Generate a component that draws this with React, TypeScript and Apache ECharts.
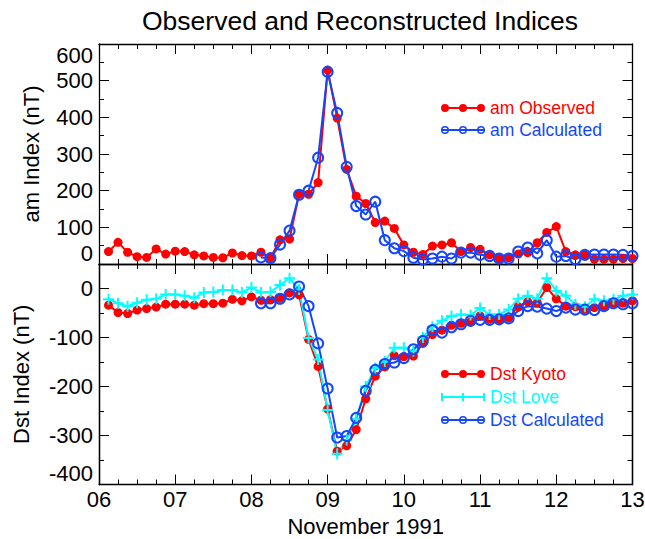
import React, { useEffect, useRef } from "react";
import * as echarts from "echarts";

// Sampling: 3-hourly values, November 1991 (day-of-month on the x axis)
const obsStart = 6.125;
const calcStart = 8.125;
const step = 0.125;

const amObserved = [34, 59, 32, 20, 18, 41, 27, 35, 34, 25, 22, 18, 17, 30, 23, 22, 32, 17, 66, 68,
  190, 190, 222, 529, 398, 258, 185, 165, 113, 117, 97, 52, 32, 26, 49, 52, 58, 34, 45, 40,
  25, 15, 17, 27, 31, 58, 86, 102, 34, 25, 25, 13, 13, 13, 15, 15];
const amCalculated = [18, 16, 53, 91, 189, 200, 290, 524, 412, 265, 158, 135, 170, 65, 43, 35, 17, 12, 15, 20,
  15, 31, 31, 25, 22, 15, 15, 34, 45, 29, 65, 20, 22, 13, 25, 26, 26, 26, 25, 22];
const dstKyoto = [-34, -49, -51, -44, -41, -38, -32, -32, -32, -34, -31, -31, -30, -22, -25, -17, -24, -23, -20, -9,
  -13, -104, -159, -246, -332, -321, -288, -225, -179, -160, -137, -139, -138, -112, -94, -85, -75, -71, -68, -56,
  -63, -63, -60, -37, -27, -29, 2, -21, -36, -37, -43, -39, -36, -30, -30, -25];
const dstLove = [-22, -30, -36, -29, -23, -21, -12, -12, -15, -19, -8, -7, -3, -3, -8, 2, -8, -7, 7, 21,
  -2, -101, -145, -248, -337, -309, -267, -200, -162, -149, -121, -121, -128, -100, -78, -66, -56, -53, -54, -40,
  -53, -53, -43, -21, -15, -21, 21, -5, -15, -32, -37, -22, -25, -22, -15, -12];
const dstCalculated = [-30, -30, -21, -12, 4, -36, -112, -204, -304, -301, -264, -209, -166, -154, -151, -142, -124, -107, -85, -90,
  -79, -73, -66, -64, -64, -63, -61, -46, -36, -37, -41, -46, -39, -43, -43, -44, -36, -30, -32, -30];

const xTicks = { min: 6, max: 13, interval: 1 };
const amTicks = { min: 0, max: 600, interval: 100 };
const dstTicks = { min: -400, max: 50, interval: 100 };

const RED = "#ff0000";
const CYAN = "#00ffff";
const BLUE = "#1446ff";
const FONT = '"Liberation Sans", Arial, Helvetica, sans-serif';

const pts = (vals: number[], start: number) => vals.map((v, i) => [start + i * step, v]);

// legend icons (44 x 8 boxes); clockwise = sweep 1, counter-clockwise = sweep 0
const circ = (cx: number, cy: number, r: number, cw: boolean) =>
  `M${cx - r},${cy}A${r},${r},0,1,${cw ? 1 : 0},${cx + r},${cy}A${r},${r},0,1,${cw ? 1 : 0},${cx - r},${cy}Z`;
const iconDots = "path://M4,3L40,3L40,5L4,5Z" + circ(4, 4, 4, true) + circ(22, 4, 4, true) + circ(40, 4, 4, true);
const iconRings =
  "path://M0,3L44,3L44,5L0,5Z" +
  [4, 22, 40].map((c) => circ(c, 4, 4, true) + circ(c, 4, 2.5, false)).join("");
const iconPlus = "path://M0,3L44,3L44,5L0,5Z M0,0L2,0L2,8L0,8Z M21,0L23,0L23,8L21,8Z M42,0L44,0L44,8L42,8Z";
const plusSymbol = "path://M4.5,0h2v4.5h4.5v2h-4.5v4.5h-2v-4.5h-4.5v-2h4.5z";

const dayLabel = (v: number) => (v < 10 ? "0" : "") + v;

function xAxisDef(gridIndex: number, position: string, labels: boolean, name?: string) {
  return {
    type: "value",
    gridIndex,
    position,
    ...xTicks,
    name: name || "",
    nameLocation: "middle",
    nameGap: 31,
    nameTextStyle: { fontSize: 22, color: "#000", fontFamily: FONT },
    axisLine: { show: true, onZero: false, lineStyle: { color: "#000", width: 1.3 } },
    axisTick: { show: true, inside: true, length: 10, lineStyle: { color: "#000", width: 1 } },
    minorTick: { show: true, splitNumber: 4, length: 5, lineStyle: { color: "#000", width: 1 } },
    axisLabel: { show: labels, formatter: dayLabel, fontSize: 22, color: "#000", fontFamily: FONT, margin: 4 },
    splitLine: { show: false },
    minorSplitLine: { show: false },
  };
}

function yAxisDef(gridIndex: number, position: string, ticks: any, opts: any) {
  return {
    type: "value",
    gridIndex,
    position,
    ...ticks,
    axisLine: { show: true, onZero: false, lineStyle: { color: "#000", width: 1.3 } },
    axisTick: { show: true, inside: true, length: opts.tickLen ?? 10, lineStyle: { color: "#000", width: 1 } },
    minorTick: { show: !!opts.minor, splitNumber: 2, length: 5, lineStyle: { color: "#000", width: 1 } },
    axisLabel: {
      show: !!opts.labels,
      fontSize: 22,
      color: "#000",
      fontFamily: FONT,
      margin: 6,
      showMaxLabel: opts.showMax ?? true,
      verticalAlignMinLabel: "bottom",
      verticalAlignMaxLabel: "top",
      formatter: (v: number) => (v > 0 && ticks.min < 0 ? "" : String(v)),
    },
    name: opts.name || "",
    nameLocation: "middle",
    nameGap: opts.nameGap ?? 56,
    nameTextStyle: { fontSize: 22, color: "#000", fontFamily: FONT },
    splitLine: { show: false },
    minorSplitLine: { show: false },
  };
}

function legendDef(top: number, gap: number, items: any[]) {
  return {
    orient: "vertical",
    left: 441,
    top,
    padding: 0,
    itemGap: gap,
    itemWidth: 44,
    itemHeight: 8,
    selectedMode: false,
    textStyle: { fontSize: 17.5, lineHeight: 18, fontFamily: FONT },
    data: items.map((it) => ({
      name: it.name,
      icon: it.icon,
      itemStyle: { color: it.color, borderWidth: 0 },
      textStyle: { color: it.color },
    })),
  };
}

export default function App() {
  const ref = useRef<HTMLDivElement>(null);
  useEffect(() => {
    if (!ref.current) return;
    const chart = echarts.init(ref.current, null, { renderer: "svg" });
    const dotSeries = (name: string, vals: number[], start: number, x: number, y: number) => ({
      name, type: "line", xAxisIndex: x, yAxisIndex: y, data: pts(vals, start),
      symbol: "circle", symbolSize: 9, showSymbol: true,
      itemStyle: { color: RED }, lineStyle: { color: RED, width: 2 }, emphasis: { disabled: true },
    });
    const ringSeries = (name: string, vals: number[], start: number, x: number, y: number) => ({
      name, type: "line", xAxisIndex: x, yAxisIndex: y, data: pts(vals, start),
      symbol: "circle", symbolSize: 10, showSymbol: true,
      itemStyle: { color: "rgba(255,255,255,0)", borderColor: BLUE, borderWidth: 2 },
      lineStyle: { color: BLUE, width: 2 }, emphasis: { disabled: true },
    });
    const option = {
      animation: false,
      backgroundColor: "#fff",
      title: {
        text: "Observed and Reconstructed Indices",
        left: 142,
        top: 7,
        padding: 0,
        textStyle: { fontSize: 26.5, fontWeight: "normal", color: "#000", fontFamily: FONT },
      },
      grid: [
        { left: 99, right: 12.5, top: 44, height: 220, outerBoundsMode: "none" },
        { left: 99, right: 12.5, top: 264, height: 220.5, outerBoundsMode: "none" },
      ],
      xAxis: [
        xAxisDef(0, "bottom", false),
        xAxisDef(0, "top", false),
        xAxisDef(1, "bottom", true, "November 1991"),
        xAxisDef(1, "top", false),
      ],
      yAxis: [
        yAxisDef(0, "left", amTicks, { labels: true, minor: true, name: "am Index (nT)", nameGap: 57 }),
        yAxisDef(0, "right", amTicks, { minor: true }),
        yAxisDef(1, "left", dstTicks, { labels: true, showMax: false, name: "Dst Index (nT)", nameGap: 67 }),
        yAxisDef(1, "left", { ...dstTicks, interval: 50 }, { tickLen: 5 }),
        yAxisDef(1, "right", dstTicks, {}),
        yAxisDef(1, "right", { ...dstTicks, interval: 50 }, { tickLen: 5 }),
      ],
      legend: [
        legendDef(99, 4, [
          { name: "am Observed", icon: iconDots, color: RED },
          { name: "am Calculated", icon: iconRings, color: BLUE },
        ]),
        legendDef(365, 5, [
          { name: "Dst Kyoto", icon: iconDots, color: RED },
          { name: "Dst Love", icon: iconPlus, color: CYAN },
          { name: "Dst Calculated", icon: iconRings, color: BLUE },
        ]),
      ],
      series: [
        dotSeries("am Observed", amObserved, obsStart, 0, 0),
        ringSeries("am Calculated", amCalculated, calcStart, 0, 0),
        dotSeries("Dst Kyoto", dstKyoto, obsStart, 2, 2),
        {
          name: "Dst Love", type: "line", xAxisIndex: 2, yAxisIndex: 2, data: pts(dstLove, obsStart),
          symbol: plusSymbol, symbolSize: 11, showSymbol: true,
          itemStyle: { color: CYAN }, lineStyle: { color: CYAN, width: 2 }, emphasis: { disabled: true },
        },
        ringSeries("Dst Calculated", dstCalculated, calcStart, 2, 2),
      ],
    };
    chart.setOption(option as any);
    return () => chart.dispose();
  }, []);
  return (
    <div
      ref={ref}
      style={{ position: "fixed", left: 0, top: 0, width: 645, height: 539, background: "#fff" }}
    />
  );
}
